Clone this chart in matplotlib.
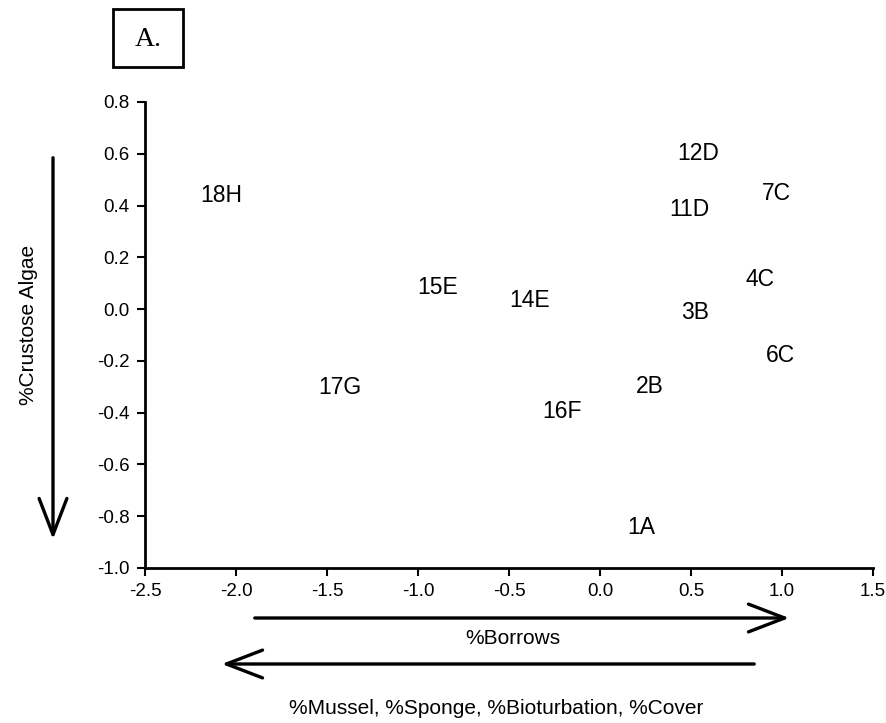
import matplotlib
matplotlib.use("Agg")
import matplotlib.pyplot as plt
from matplotlib.patches import FancyArrowPatch, Rectangle

# --- Site scores ---
labels = ["18H", "12D", "7C", "11D", "15E", "14E", "4C", "3B", "6C",
          "17G", "2B", "16F", "1A"]
x_vals = [-2.08, 0.54, 0.97, 0.49, -0.89, -0.385, 0.88, 0.52, 0.99,
          -1.43, 0.275, -0.21, 0.225]
y_vals = [0.44, 0.60, 0.445, 0.383, 0.082, 0.035, 0.113, -0.015, -0.18,
          -0.304, -0.30, -0.397, -0.845]

x_ticks = [-2.5, -2.0, -1.5, -1.0, -0.5, 0.0, 0.5, 1.0, 1.5]
y_ticks = [-1.0, -0.8, -0.6, -0.4, -0.2, 0.0, 0.2, 0.4, 0.6, 0.8]

plt.rcParams["font.family"] = ["Liberation Sans", "DejaVu Sans"]

W, H = 886, 723
fig = plt.figure(figsize=(W / 100, H / 100), dpi=100)
ax = fig.add_axes([145 / W, 1 - 568 / H, (873 - 145) / W, (568 - 102) / H])

for lab, xv, yv in zip(labels, x_vals, y_vals):
    ax.text(xv, yv, lab, ha="center", va="center", fontsize=16.5)

ax.set_xlim(-2.5, 1.5)
ax.set_ylim(-1.0, 0.8)
ax.set_xticks(x_ticks)
ax.set_yticks(y_ticks)
ax.set_xticklabels([f"{t:.1f}" for t in x_ticks])
ax.set_yticklabels([f"{t:.1f}" for t in y_ticks])
for side in ("top", "right"):
    ax.spines[side].set_visible(False)
for side in ("left", "bottom"):
    ax.spines[side].set_linewidth(2)
ax.tick_params(direction="out", length=6, width=1.5, labelsize=13.5, pad=5)


def fx(px):
    return px / W


def fy(py):
    return 1 - py / H


arrow_kw = dict(arrowstyle="->,head_length=1.3,head_width=0.5", lw=2.4,
                color="black", mutation_scale=20, transform=fig.transFigure)

# Borrows arrow (left -> right)
fig.add_artist(FancyArrowPatch((fx(252), fy(618)), (fx(792), fy(618)), **arrow_kw))
fig.text(fx(513), fy(639), "%Borrows", ha="center", va="center", fontsize=15)

# Mussel etc. arrow (right -> left)
fig.add_artist(FancyArrowPatch((fx(757), fy(664)), (fx(219), fy(664)), **arrow_kw))
fig.text(fx(496), fy(708), "%Mussel, %Sponge, %Bioturbation, %Cover",
         ha="center", va="center", fontsize=15)

# Crustose algae arrow (top -> bottom)
fig.add_artist(FancyArrowPatch((fx(53), fy(155)), (fx(53), fy(542)), **arrow_kw))
fig.text(fx(29), fy(325), "%Crustose Algae", ha="center", va="center",
         rotation=90, fontsize=15)

# Panel label
fig.add_artist(Rectangle((fx(113), fy(67)), (183 - 113) / W, (67 - 9) / H,
                         transform=fig.transFigure, fill=False, ec="black", lw=2))
fig.text(fx(148), fy(39), "A.", ha="center", va="center", fontsize=20,
         family=["Liberation Serif", "DejaVu Serif"])

fig.savefig("out.png", dpi=100)
